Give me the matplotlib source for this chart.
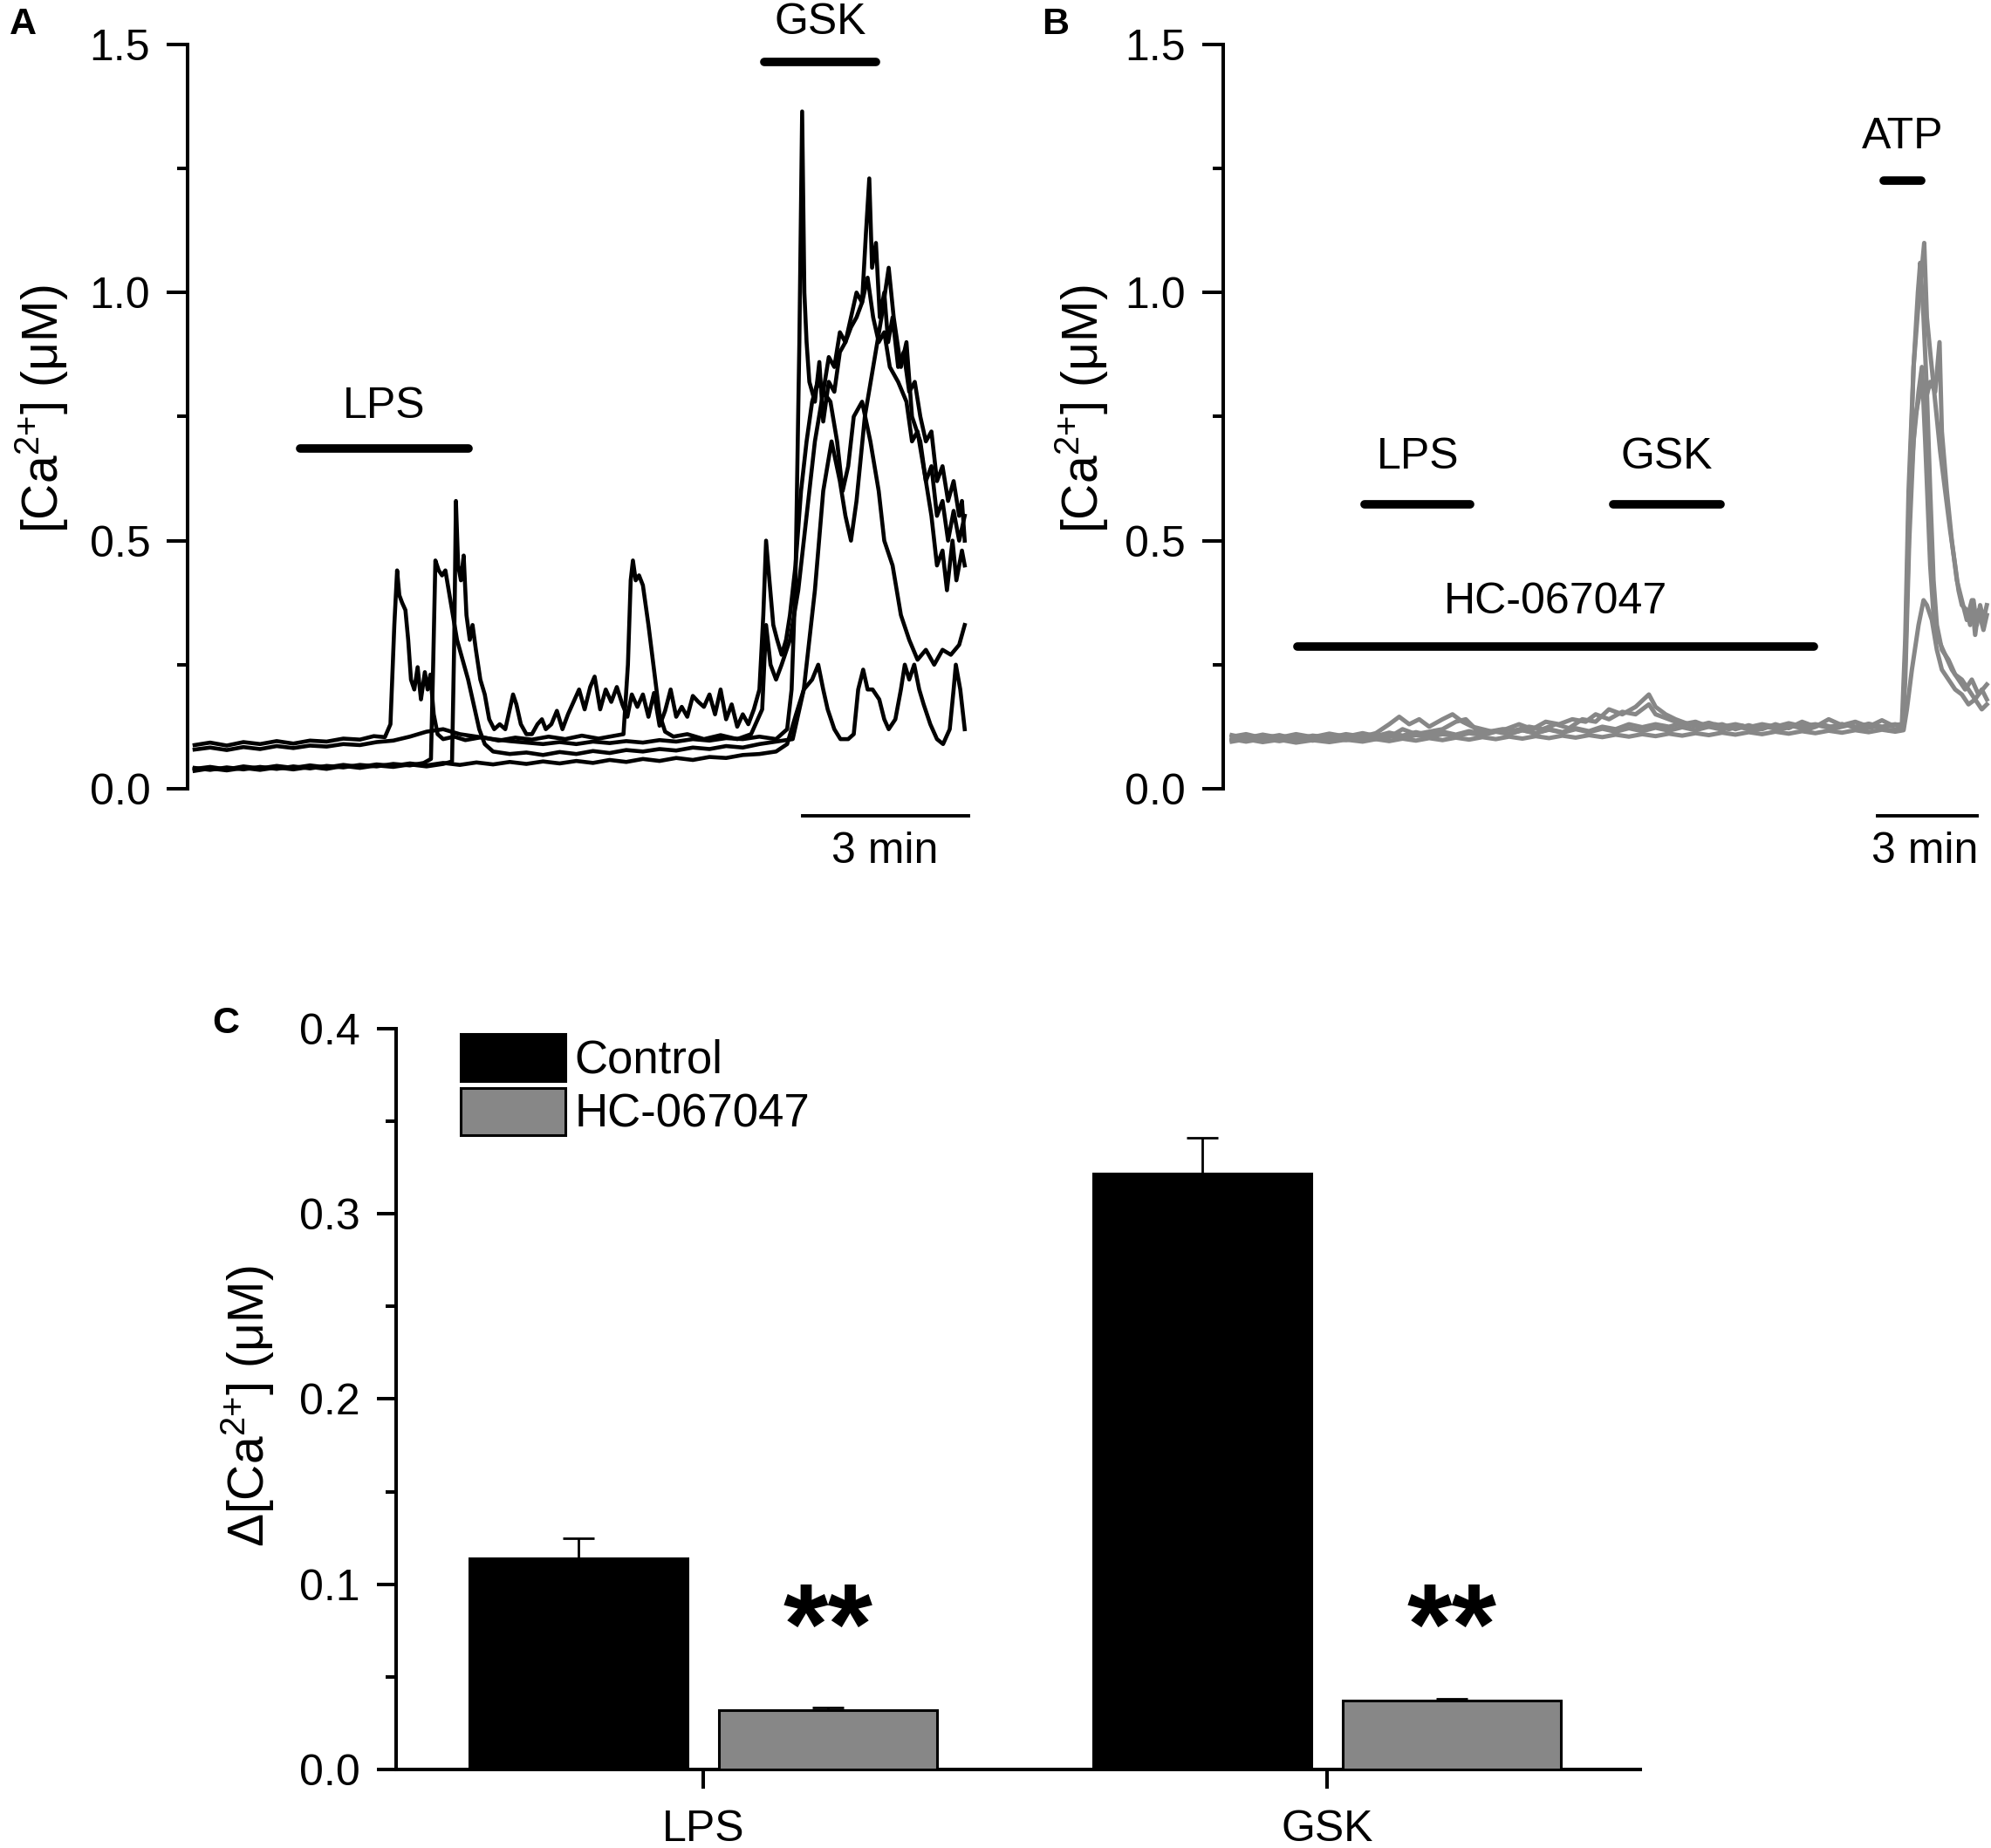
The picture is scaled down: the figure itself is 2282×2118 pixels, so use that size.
import matplotlib
matplotlib.use("Agg")
import matplotlib.pyplot as plt
from matplotlib.ticker import MultipleLocator, FormatStrFormatter
from matplotlib.patches import Patch

plt.rcParams['font.family'] = ['Liberation Sans', 'DejaVu Sans']
plt.rcParams['mathtext.fontset'] = 'custom'
plt.rcParams['mathtext.rm'] = 'Liberation Sans'
plt.rcParams['mathtext.default'] = 'regular'

# ---- panel A: control traces, (time in min, [Ca2+] in uM)
trace_a1 = [(0.12, .088), (0.4, .093), (0.7, .087), (1.0, .094), (1.3, .09), (1.6, .096), (1.9, .091),
            (2.2, .097), (2.5, .095), (2.8, .101), (3.1, .099), (3.35, .106), (3.55, .104), (3.65, .13),
            (3.72, .33), (3.77, .44), (3.81, .39), (3.86, .375), (3.92, .36), (3.97, .3), (4.02, .22),
            (4.08, .2), (4.14, .245), (4.2, .18), (4.27, .235), (4.32, .2), (4.37, .23), (4.43, .15),
            (4.5, .11), (4.6, .1), (4.8, .105), (5.0, .098), (5.3, .104), (5.6, .097), (5.9, .103),
            (6.2, .099), (6.5, .105), (6.8, .1), (7.1, .107), (7.4, .101), (7.65, .106), (7.85, .11),
            (7.93, .25), (7.98, .42), (8.02, .46), (8.07, .42), (8.13, .43), (8.2, .41), (8.3, .33),
            (8.4, .24), (8.5, .15), (8.6, .115), (8.75, .105), (9.0, .11), (9.3, .1), (9.6, .108),
            (9.9, .1), (10.15, .11), (10.35, .16), (10.42, .33), (10.5, .25), (10.6, .22), (10.7, .25),
            (10.85, .3), (11.0, .4), (11.15, .55), (11.3, .7), (11.45, .8), (11.58, .78), (11.7, .7),
            (11.8, .6), (11.9, .65), (12.0, .75), (12.15, .78), (12.3, .7), (12.45, .6), (12.55, .5),
            (12.7, .45), (12.85, .35), (13.0, .3), (13.15, .26), (13.3, .28), (13.45, .25), (13.6, .28),
            (13.75, .27), (13.9, .29), (14.0, .33)]
trace_a2 = [(0.12, .079), (0.4, .083), (0.7, .078), (1.0, .084), (1.3, .08), (1.6, .086), (1.9, .082),
            (2.2, .087), (2.5, .085), (2.8, .09), (3.1, .088), (3.4, .094), (3.7, .097), (4.0, .105),
            (4.3, .115), (4.6, .12), (4.9, .11), (5.2, .105), (5.5, .1), (5.8, .096), (6.1, .093),
            (6.4, .09), (6.7, .094), (7.0, .09), (7.3, .095), (7.6, .092), (7.9, .096), (8.2, .093),
            (8.5, .098), (8.8, .095), (9.1, .1), (9.4, .097), (9.7, .102), (10.0, .1), (10.3, .105),
            (10.6, .1), (10.8, .12), (10.88, .2), (10.95, .42), (11.02, .9), (11.07, 1.365), (11.11, 1.0),
            (11.15, .9), (11.2, .82), (11.3, .78), (11.38, .86), (11.45, .74), (11.55, .82), (11.65, .8),
            (11.75, .88), (11.85, .9), (11.95, .93), (12.05, .95), (12.15, .98), (12.25, 1.03),
            (12.35, .95), (12.45, .9), (12.55, .92), (12.65, .85), (12.8, .82), (12.95, .78), (13.05, .7),
            (13.15, .72), (13.3, .62), (13.4, .65), (13.5, .55), (13.6, .58), (13.7, .5), (13.8, .56),
            (13.9, .5), (14.0, .55)]
trace_a3 = [(0.12, .042), (0.4, .038), (0.7, .043), (1.0, .039), (1.3, .044), (1.6, .04), (1.9, .045),
            (2.2, .041), (2.5, .046), (2.8, .043), (3.1, .048), (3.4, .045), (3.7, .05), (4.0, .047),
            (4.25, .052), (4.38, .06), (4.42, .25), (4.46, .46), (4.52, .44), (4.58, .43), (4.64, .44),
            (4.7, .4), (4.76, .36), (4.85, .3), (4.95, .26), (5.05, .22), (5.15, .17), (5.25, .12),
            (5.35, .09), (5.5, .075), (5.8, .07), (6.1, .073), (6.4, .068), (6.7, .074), (7.0, .07),
            (7.3, .076), (7.6, .072), (7.9, .078), (8.2, .075), (8.5, .08), (8.8, .077), (9.1, .083),
            (9.4, .08), (9.7, .086), (10.0, .083), (10.3, .09), (10.6, .095), (10.9, .1), (11.1, .2),
            (11.3, .4), (11.45, .6), (11.6, .7), (11.75, .62), (11.85, .55), (11.95, .5), (12.05, .58),
            (12.2, .75), (12.35, .85), (12.5, .95), (12.63, 1.05), (12.72, .95), (12.85, .85),
            (12.95, .9), (13.05, .75), (13.2, .7), (13.3, .62), (13.4, .55), (13.5, .45), (13.6, .48),
            (13.68, .4), (13.78, .5), (13.85, .42), (13.95, .48), (14.0, .45)]
trace_a4 = [(0.12, .036), (0.4, .041), (0.7, .037), (1.0, .042), (1.3, .038), (1.6, .043), (1.9, .039),
            (2.2, .044), (2.5, .04), (2.8, .046), (3.1, .042), (3.4, .047), (3.7, .044), (4.0, .049),
            (4.3, .045), (4.6, .05), (4.76, .055), (4.8, .3), (4.83, .58), (4.87, .45), (4.92, .42),
            (4.97, .47), (5.02, .35), (5.08, .3), (5.13, .33), (5.19, .28), (5.27, .22), (5.35, .19),
            (5.43, .14), (5.52, .12), (5.62, .13), (5.72, .12), (5.8, .16), (5.86, .19), (5.92, .17),
            (6.0, .13), (6.1, .11), (6.2, .11), (6.3, .13), (6.38, .14), (6.45, .12), (6.55, .13),
            (6.65, .157), (6.75, .12), (6.85, .15), (6.95, .175), (7.05, .2), (7.15, .16), (7.25, .205),
            (7.33, .226), (7.43, .16), (7.53, .2), (7.63, .175), (7.73, .205), (7.83, .17), (7.92, .145),
            (8.0, .19), (8.1, .165), (8.2, .19), (8.3, .145), (8.4, .193), (8.5, .127), (8.6, .157),
            (8.7, .2), (8.8, .145), (8.9, .165), (9.0, .145), (9.1, .187), (9.2, .175), (9.3, .165),
            (9.4, .19), (9.5, .15), (9.6, .2), (9.7, .14), (9.8, .17), (9.9, .125), (10.0, .15),
            (10.1, .13), (10.2, .16), (10.3, .2), (10.37, .35), (10.42, .5), (10.48, .42), (10.55, .33),
            (10.62, .3), (10.7, .27), (10.78, .3), (10.85, .35), (10.95, .45), (11.05, .6), (11.15, .7),
            (11.25, .78), (11.35, .82), (11.45, .8), (11.55, .87), (11.65, .85), (11.75, .92),
            (11.85, .9), (11.95, .95), (12.05, 1.0), (12.15, .98), (12.22, 1.12), (12.28, 1.23),
            (12.33, 1.05), (12.4, 1.1), (12.47, .95), (12.55, 1.0), (12.62, .9), (12.7, .95),
            (12.8, .85), (12.9, .88), (13.0, .8), (13.1, .82), (13.2, .75), (13.3, .7), (13.4, .72),
            (13.5, .62), (13.6, .65), (13.7, .58), (13.8, .62), (13.9, .55), (13.95, .58), (14.0, .5)]
trace_a5 = [(0.12, .04), (0.4, .044), (0.7, .039), (1.0, .045), (1.3, .041), (1.6, .046), (1.9, .042),
            (2.2, .047), (2.5, .043), (2.8, .048), (3.1, .044), (3.4, .049), (3.7, .046), (4.0, .051),
            (4.3, .047), (4.6, .052), (4.9, .048), (5.2, .053), (5.5, .049), (5.8, .054), (6.1, .05),
            (6.4, .055), (6.7, .051), (7.0, .056), (7.3, .052), (7.6, .058), (7.9, .054), (8.2, .06),
            (8.5, .056), (8.8, .062), (9.1, .058), (9.4, .064), (9.7, .062), (10.0, .068), (10.3, .07),
            (10.6, .075), (10.8, .09), (10.96, .15), (11.1, .2), (11.25, .22), (11.36, .25), (11.45, .2),
            (11.53, .16), (11.65, .12), (11.76, .1), (11.9, .1), (12.0, .11), (12.08, .2), (12.17, .24),
            (12.25, .2), (12.34, .2), (12.46, .18), (12.55, .14), (12.63, .12), (12.75, .14),
            (12.85, .2), (12.92, .25), (13.0, .22), (13.09, .25), (13.18, .2), (13.26, .17),
            (13.38, .13), (13.5, .1), (13.61, .09), (13.73, .12), (13.8, .2), (13.84, .25), (13.92, .2),
            (14.0, .12)]

# ---- panel B: HC-067047 traces
trace_b1 = [(0.27, .105), (0.7, .11), (1.2, .102), (1.7, .108), (2.2, .1), (2.7, .107), (3.2, .103),
            (3.7, .11), (4.2, .105), (4.6, .112), (5.0, .13), (5.3, .145), (5.6, .13), (5.9, .14),
            (6.2, .125), (6.6, .14), (6.9, .15), (7.2, .135), (7.5, .125), (7.8, .12), (8.1, .115),
            (8.5, .12), (8.9, .13), (9.3, .12), (9.7, .135), (10.1, .13), (10.5, .14), (10.9, .135),
            (11.2, .15), (11.6, .14), (12.0, .155), (12.4, .15), (12.8, .17), (13.0, .15), (13.4, .14),
            (13.8, .13), (14.2, .135), (14.6, .125), (15.0, .13), (15.4, .12), (15.8, .128), (16.2, .12),
            (16.6, .13), (17.0, .122), (17.4, .135), (17.8, .125), (18.2, .14), (18.6, .128),
            (19.0, .135), (19.4, .125), (19.8, .138), (20.1, .128), (20.4, .13), (20.5, .3), (20.6, .6),
            (20.75, .85), (20.9, .98), (21.0, 1.05), (21.07, 1.10), (21.15, .95), (21.25, .88),
            (21.4, .78), (21.55, .68), (21.7, .6), (21.85, .52), (22.0, .45), (22.1, .4), (22.2, .37),
            (22.35, .36), (22.45, .33), (22.55, .38), (22.65, .33), (22.75, .37), (22.85, .34),
            (22.95, .37)]
trace_b2 = [(0.27, .098), (0.7, .104), (1.2, .097), (1.7, .103), (2.2, .099), (2.7, .105), (3.2, .1),
            (3.7, .106), (4.2, .102), (4.6, .108), (5.0, .104), (5.4, .12), (5.8, .11), (6.2, .115),
            (6.6, .12), (7.0, .135), (7.3, .14), (7.6, .12), (8.0, .115), (8.4, .12), (8.8, .118),
            (9.2, .125), (9.6, .12), (10.0, .13), (10.4, .122), (10.8, .14), (11.2, .135), (11.6, .16),
            (12.0, .15), (12.4, .165), (12.8, .19), (13.0, .165), (13.3, .15), (13.6, .14), (14.0, .13),
            (14.4, .125), (14.8, .13), (15.2, .12), (15.6, .127), (16.0, .118), (16.4, .125), (16.8, .12),
            (17.2, .128), (17.6, .12), (18.0, .13), (18.4, .122), (18.8, .128), (19.2, .12), (19.6, .125),
            (20.0, .118), (20.42, .12), (20.5, .25), (20.6, .55), (20.75, .85), (20.88, 1.0),
            (20.95, 1.06), (21.05, .95), (21.15, .8), (21.25, .6), (21.35, .42), (21.45, .33),
            (21.6, .28), (21.8, .26), (22.0, .23), (22.2, .22), (22.4, .2), (22.6, .18), (22.8, .2),
            (22.95, .18)]
trace_b3 = [(0.27, .1), (0.7, .095), (1.2, .101), (1.7, .096), (2.2, .102), (2.7, .097), (3.2, .103),
            (3.7, .098), (4.2, .104), (4.6, .1), (5.0, .106), (5.4, .102), (5.8, .108), (6.2, .104),
            (6.6, .11), (7.0, .106), (7.4, .112), (7.8, .108), (8.2, .115), (8.6, .11), (9.0, .118),
            (9.4, .112), (9.8, .12), (10.2, .114), (10.6, .122), (11.0, .116), (11.4, .125), (11.8, .12),
            (12.2, .13), (12.6, .124), (13.0, .13), (13.4, .125), (13.8, .132), (14.2, .126), (14.6, .133),
            (15.0, .125), (15.4, .13), (15.8, .124), (16.2, .13), (16.6, .125), (17.0, .132), (17.4, .126),
            (17.8, .13), (18.2, .124), (18.6, .13), (19.0, .125), (19.4, .13), (19.8, .124), (20.2, .128),
            (20.42, .125), (20.52, .3), (20.65, .6), (20.8, .75), (20.95, .8), (21.1, .78), (21.25, .82),
            (21.4, .8), (21.53, .9), (21.6, .72), (21.75, .6), (21.9, .5), (22.05, .42), (22.2, .38),
            (22.35, .34), (22.5, .38), (22.6, .31), (22.7, .36), (22.85, .32), (22.95, .35)]
trace_b4 = [(0.27, .108), (0.7, .102), (1.2, .109), (1.7, .103), (2.2, .11), (2.7, .104), (3.2, .111),
            (3.7, .105), (4.2, .112), (4.6, .106), (5.0, .113), (5.4, .107), (5.8, .114), (6.2, .108),
            (6.6, .115), (7.0, .109), (7.4, .116), (7.8, .11), (8.2, .117), (8.6, .111), (9.0, .118),
            (9.4, .112), (9.8, .119), (10.2, .113), (10.6, .12), (11.0, .114), (11.4, .121), (11.8, .115),
            (12.2, .122), (12.6, .116), (13.0, .123), (13.4, .117), (13.8, .124), (14.2, .118),
            (14.6, .125), (15.0, .119), (15.4, .126), (15.8, .12), (16.2, .127), (16.6, .121),
            (17.0, .128), (17.4, .122), (17.8, .129), (18.2, .123), (18.6, .13), (19.0, .124),
            (19.4, .131), (19.8, .125), (20.2, .13), (20.42, .126), (20.5, .22), (20.62, .5), (20.75, .7),
            (20.9, .8), (21.0, .85), (21.1, .7), (21.25, .45), (21.35, .35), (21.5, .3), (21.7, .27),
            (21.9, .24), (22.1, .22), (22.3, .2), (22.5, .22), (22.7, .19), (22.95, .21)]
trace_b5 = [(0.27, .095), (0.7, .1), (1.2, .094), (1.7, .099), (2.2, .093), (2.7, .098), (3.2, .094),
            (3.7, .099), (4.2, .095), (4.6, .1), (5.0, .096), (5.4, .101), (5.8, .097), (6.2, .102),
            (6.6, .098), (7.0, .103), (7.4, .099), (7.8, .104), (8.2, .1), (8.6, .105), (9.0, .101),
            (9.4, .106), (9.8, .102), (10.2, .107), (10.6, .103), (11.0, .108), (11.4, .104), (11.8, .109),
            (12.2, .105), (12.6, .11), (13.0, .106), (13.4, .111), (13.8, .107), (14.2, .112),
            (14.6, .108), (15.0, .113), (15.4, .109), (15.8, .114), (16.2, .11), (16.6, .115),
            (17.0, .111), (17.4, .116), (17.8, .112), (18.2, .117), (18.6, .113), (19.0, .118),
            (19.4, .114), (19.8, .119), (20.2, .115), (20.45, .118), (20.55, .16), (20.7, .24),
            (20.9, .33), (21.05, .38), (21.15, .37), (21.3, .34), (21.45, .28), (21.6, .24), (21.8, .22),
            (22.0, .2), (22.2, .19), (22.4, .17), (22.6, .18), (22.8, .16), (22.95, .17)]

# ---- panel C: summary bars
groups = ['LPS', 'GSK']
control_mean = [0.114, 0.322]
control_sem = [0.011, 0.019]
hc_mean = [0.032, 0.037]
hc_sem = [0.0015, 0.0012]

GRAY = '#878787'
fig = plt.figure(figsize=(22.82, 21.18), dpi=100)
W, H = 1568.0, 1455.0
CA = '[Ca$^{2{+}}$] (μM)'


def box(l, t, r, b):
    return [l / W, 1 - b / H, (r - l) / W, (b - t) / H]


def trace_axis(ax, xmax, label_x):
    ax.set_xlim(0, xmax)
    ax.set_ylim(0, 1.5)
    for s in ['top', 'right', 'bottom']:
        ax.spines[s].set_visible(False)
    ax.spines['left'].set_linewidth(2.9)
    ax.xaxis.set_visible(False)
    ax.yaxis.set_major_locator(MultipleLocator(0.5))
    ax.yaxis.set_minor_locator(MultipleLocator(0.25))
    ax.yaxis.set_major_formatter(FormatStrFormatter('%.1f'))
    ax.tick_params(axis='y', which='major', length=17, width=2.9, labelsize=36, pad=14)
    ax.tick_params(axis='y', which='minor', length=9, width=2.9)
    ax.text(label_x, 0.51, CA, transform=ax.transAxes, rotation=90,
            ha='center', va='center', fontsize=41)


def drug_bar(ax, t0, t1, y, text=None, ty=None, lw=7):
    ax.plot([t0, t1], [y, y], color='k', lw=lw, solid_capstyle='round', clip_on=False)
    if text:
        ax.text((t0 + t1) / 2, ty, text, ha='center', va='center', fontsize=36, clip_on=False)


# panel A
axA = fig.add_axes(box(148, 35, 765, 621))
trace_axis(axA, 14.12, -0.186)
for tr in [trace_a5, trace_a3, trace_a4, trace_a1, trace_a2]:
    t, v = zip(*tr)
    axA.plot(t, v, color='k', lw=3.3, clip_on=False)
drug_bar(axA, 2.02, 5.06, 0.686, 'LPS', 0.770)
drug_bar(axA, 10.39, 12.4, 1.464, 'GSK', 1.543)
axA.plot([11.08, 14.07], [-0.054, -0.054], color='k', lw=2.8, clip_on=False)
axA.text(12.56, -0.127, '3 min', ha='center', va='center', fontsize=36)

# panel B
axB = fig.add_axes(box(963, 35, 1566, 621))
trace_axis(axB, 23.0, -0.184)
for tr in [trace_b5, trace_b4, trace_b3, trace_b2, trace_b1]:
    t, v = zip(*tr)
    axB.plot(t, v, color=GRAY, lw=3.6, clip_on=False)
drug_bar(axB, 4.27, 7.44, 0.573, 'LPS', 0.668)
drug_bar(axB, 11.72, 14.96, 0.573, 'GSK', 0.668)
drug_bar(axB, 2.25, 17.75, 0.287, 'HC-067047', 0.376)
drug_bar(axB, 19.85, 20.99, 1.226, 'ATP', 1.313)
axB.plot([19.66, 22.67], [-0.054, -0.054], color='k', lw=2.8, clip_on=False)
axB.text(21.1, -0.127, '3 min', ha='center', va='center', fontsize=36)

# panel C
axC = fig.add_axes(box(312, 810, 1292, 1393))
xs = [1, 2]
axC.bar([x - 0.2 for x in xs], control_mean, width=0.35, color='k', edgecolor='k', lw=2.2, zorder=3)
axC.bar([x + 0.2 for x in xs], hc_mean, width=0.35, color=GRAY, edgecolor='k', lw=2.2, zorder=3)
axC.errorbar([x - 0.2 for x in xs], control_mean, yerr=[[0, 0], control_sem], fmt='none',
             ecolor='k', elinewidth=2, capsize=13, capthick=2, zorder=2)
axC.errorbar([x + 0.2 for x in xs], hc_mean, yerr=[[0, 0], hc_sem], fmt='none',
             ecolor='k', elinewidth=2, capsize=13, capthick=2, zorder=2)
for x in xs:
    axC.text(x + 0.2, 0.102, '**', ha='center', va='top', fontsize=95, fontweight='bold')
axC.set_xlim(0.507, 2.503)
axC.set_ylim(0, 0.4)
for s in ['top', 'right']:
    axC.spines[s].set_visible(False)
axC.spines['left'].set_linewidth(2.9)
axC.spines['bottom'].set_linewidth(2.9)
axC.set_xticks(xs)
axC.set_xticklabels(groups)
axC.yaxis.set_major_locator(MultipleLocator(0.1))
axC.yaxis.set_minor_locator(MultipleLocator(0.05))
axC.yaxis.set_major_formatter(FormatStrFormatter('%.1f'))
axC.tick_params(axis='both', which='major', length=16, width=2.9, labelsize=36)
axC.tick_params(axis='y', which='major', pad=14)
axC.tick_params(axis='x', which='major', pad=17)
axC.tick_params(axis='y', which='minor', length=9, width=2.9)
axC.text(-0.119, 0.49, 'Δ' + CA, transform=axC.transAxes, rotation=90,
         ha='center', va='center', fontsize=41)
handles = [Patch(facecolor='k', edgecolor='k', lw=2.2), Patch(facecolor=GRAY, edgecolor='k', lw=2.2)]
axC.legend(handles, ['Control', 'HC-067047'], loc='upper left', bbox_to_anchor=(363 / W, 1 - 814 / H),
           bbox_transform=fig.transFigure, frameon=False, fontsize=38, handlelength=2.27,
           handleheight=1.2, handletextpad=0.2, labelspacing=0.12, borderpad=0, borderaxespad=0)

# panel letters
for letter, (x, y) in zip('ABC', [(18, 19), (831, 19), (178, 806)]):
    fig.text(x / W, 1 - y / H, letter, ha='center', va='center', fontsize=31, fontweight='bold')

fig.savefig('out.png', dpi=100)
